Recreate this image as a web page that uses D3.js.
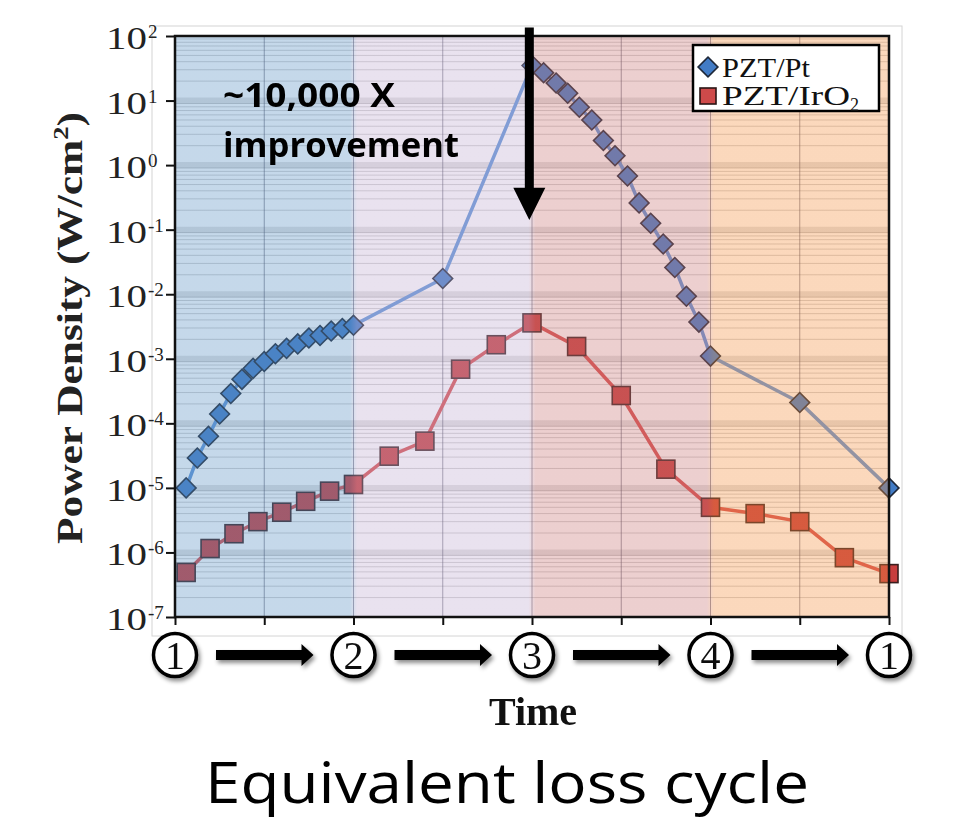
<!DOCTYPE html>
<html>
<head>
<meta charset="utf-8">
<script src="https://cdn.jsdelivr.net/npm/d3@7"></script>
<style>
  body { margin: 0; background: #fff; }
  svg { display: block; }
</style>
</head>
<body>
<div id="chart"></div>
<script>
// time axis: stages of the cycle
const stageTicks = [0, 1, 2, 3, 4, 5, 6, 7, 8];
const stagePos = [0, 2, 4, 6, 8];
const stageLabels = ["1", "2", "3", "4", "1"];
const regionStart = [0, 2, 4, 6];
const regionEnd = [2, 4, 6, 8];
const decades = [-7, -6, -5, -4, -3, -2, -1, 0, 1, 2];

// PZT/Pt
const ptTime = [0.125, 0.25, 0.375, 0.5, 0.625, 0.75, 0.875, 1.0, 1.125, 1.25, 1.375, 1.5, 1.625, 1.75, 1.875, 2.0,
  3.0,
  4.0, 4.13, 4.27, 4.4, 4.53, 4.67, 4.8, 4.93, 5.07, 5.2, 5.33, 5.47, 5.6, 5.73, 5.87, 6.0,
  7.0, 8.0];
const ptValue = [1.0e-5, 2.9e-5, 6.3e-5, 1.4e-4, 2.9e-4, 4.8e-4, 7.1e-4, 9.1e-4, 1.2e-3, 1.45e-3, 1.7e-3, 2.1e-3, 2.3e-3, 2.7e-3, 2.95e-3, 3.3e-3,
  1.75e-2,
  35, 27, 18.7, 13, 7.9, 5.0, 2.4, 1.4, 0.68, 0.26, 0.126, 0.06, 0.026, 0.0093, 0.0037, 0.0011,
  2.1e-4, 1.0e-5];

// PZT/IrO2
const irTime = [0.125, 0.393, 0.661, 0.929, 1.196, 1.464, 1.732, 2.0,
  2.4, 2.8, 3.2, 3.6, 4.0,
  4.5, 5.0, 5.5, 6.0,
  6.5, 7.0, 7.5, 8.0];
const irValue = [4.9e-7, 1.15e-6, 1.95e-6, 3.0e-6, 4.2e-6, 6.2e-6, 8.9e-6, 1.13e-5,
  3.1e-5, 5.3e-5, 6.9e-4, 1.65e-3, 3.6e-3,
  1.55e-3, 2.7e-4, 1.95e-5, 5.0e-6,
  4.0e-6, 3.0e-6, 8.3e-7, 4.7e-7];

// annotation arrow (time, top value, head value, tip value)
const arrowTime = 3.97;
const arrowValues = [10 ** 2.13, 10 ** -0.35, 10 ** -0.85];

const regionColors = ["rgb(89,144,195)", "rgb(192,172,209)", "rgb(201,118,118)", "rgb(244,144,64)"];

const width = 958, height = 821;
const svg = d3.select("#chart").append("svg")
  .attr("width", width)
  .attr("height", height);

const x = d3.scaleLinear().domain([0, 8]).range([175, 889]);
const y = d3.scaleLog().domain([1e-7, 1e2]).range([617, 36]);

const defs = svg.append("defs");

const grad = defs.append("linearGradient")
  .attr("id", "regions")
  .attr("gradientUnits", "userSpaceOnUse")
  .attr("x1", x(0)).attr("x2", x(8)).attr("y1", 0).attr("y2", 0);
regionStart.forEach((s, i) => {
  const pad = i === 0 ? 0 : 0.04;
  const padE = i === 3 ? 0 : 0.04;
  grad.append("stop").attr("offset", (s + pad) / 8).attr("stop-color", regionColors[i]);
  grad.append("stop").attr("offset", (regionEnd[i] - padE) / 8).attr("stop-color", regionColors[i]);
});

const shadow = defs.append("filter").attr("id", "shadow")
  .attr("x", "-30%").attr("y", "-30%").attr("width", "160%").attr("height", "170%");
shadow.append("feDropShadow")
  .attr("dx", 2).attr("dy", 3).attr("stdDeviation", 2)
  .attr("flood-color", "#000").attr("flood-opacity", 0.45);

// outer frame of the figure
svg.append("rect")
  .attr("x", 152).attr("y", 26)
  .attr("width", 750).attr("height", 610)
  .attr("fill", "#fff")
  .attr("stroke", "#d4d4d4");

const plot = svg.append("g");

// horizontal grid
const minor = [];
decades.slice(0, -1).forEach(d => {
  [2, 3, 4, 5, 6, 7, 8, 9].forEach(k => minor.push(k * 10 ** d));
});
plot.selectAll(".major")
  .data(decades.slice(1, -1))
  .enter().append("line")
  .attr("x1", x(0)).attr("x2", x(8))
  .attr("y1", d => y(10 ** d)).attr("y2", d => y(10 ** d))
  .attr("stroke", "rgba(110,110,110,0.2)")
  .attr("stroke-width", 6);
plot.selectAll(".minor")
  .data(minor)
  .enter().append("line")
  .attr("x1", x(0)).attr("x2", x(8))
  .attr("y1", d => y(d)).attr("y2", d => y(d))
  .attr("stroke", "rgba(90,90,90,0.28)")
  .attr("stroke-width", 1);

// vertical grid
plot.selectAll(".vgrid")
  .data(stageTicks.slice(1, -1))
  .enter().append("line")
  .attr("x1", d => x(d)).attr("x2", d => x(d))
  .attr("y1", y(1e2)).attr("y2", y(1e-7))
  .attr("stroke", "rgba(70,70,90,0.55)")
  .attr("stroke-width", 1);

const line = d3.line().x(d => x(d[0])).y(d => y(d[1]));
const ptData = ptTime.map((t, i) => [t, ptValue[i]]);
const irData = irTime.map((t, i) => [t, irValue[i]]);

plot.append("path")
  .datum(ptData)
  .attr("d", line)
  .attr("fill", "none")
  .attr("stroke", "rgb(95,148,215)")
  .attr("stroke-width", 3.5);

plot.append("path")
  .datum(irData)
  .attr("d", line)
  .attr("fill", "none")
  .attr("stroke", "rgb(214,78,78)")
  .attr("stroke-width", 3.5);

plot.selectAll(".ir")
  .data(irData)
  .enter().append("rect")
  .attr("x", d => x(d[0]) - 9)
  .attr("y", d => y(d[1]) - 9)
  .attr("width", 18).attr("height", 18)
  .attr("fill", "rgb(199,62,62)")
  .attr("stroke", "#3a1f1f")
  .attr("stroke-width", 1.6);

plot.selectAll(".pt")
  .data(ptData)
  .enter().append("rect")
  .attr("x", -7).attr("y", -7)
  .attr("width", 14).attr("height", 14)
  .attr("transform", d => `translate(${x(d[0])},${y(d[1])}) rotate(45)`)
  .attr("fill", "rgb(66,124,198)")
  .attr("stroke", "#1f2838")
  .attr("stroke-width", 1.6);

// translucent colour regions over the data
svg.append("rect")
  .attr("x", x(0)).attr("y", y(1e2))
  .attr("width", x(8) - x(0)).attr("height", y(1e-7) - y(1e2))
  .attr("fill", "url(#regions)")
  .attr("opacity", 0.35);

// axes
const yAxis = svg.append("g")
  .attr("transform", `translate(${x(0)},0)`)
  .call(d3.axisLeft(y).tickValues(decades.map(d => 10 ** d)).tickFormat("").tickSize(9));
const xAxis = svg.append("g")
  .attr("transform", `translate(0,${y(1e-7)})`)
  .call(d3.axisBottom(x).tickValues(stageTicks).tickFormat("").tickSize(8));
[yAxis, xAxis].forEach(a => {
  a.select(".domain").remove();
  a.selectAll(".tick line").attr("stroke", "#111").attr("stroke-width", 2);
});

svg.append("rect")
  .attr("x", x(0)).attr("y", y(1e2))
  .attr("width", x(8) - x(0)).attr("height", y(1e-7) - y(1e2))
  .attr("fill", "none")
  .attr("stroke", "#111")
  .attr("stroke-width", 2.5);

// y tick labels 10^n
const labels = svg.append("g")
  .attr("font-family", "'Liberation Serif', serif")
  .attr("fill", "#222");
decades.forEach(d => {
  const ty = y(10 ** d);
  labels.append("text")
    .attr("x", 147).attr("y", ty + 13)
    .attr("text-anchor", "end")
    .attr("font-size", 31)
    .attr("textLength", 41)
    .attr("lengthAdjust", "spacingAndGlyphs")
    .text("10");
  labels.append("text")
    .attr("x", 148).attr("y", ty + 2)
    .attr("font-size", 19)
    .text(d < 0 ? "-" + Math.abs(d) : String(d));
});

svg.append("text")
  .attr("transform", "translate(82,328) rotate(-90)")
  .attr("text-anchor", "middle")
  .attr("font-family", "'Liberation Serif', serif")
  .attr("font-weight", "bold")
  .attr("font-size", 36)
  .attr("fill", "#222")
  .attr("textLength", 432)
  .attr("lengthAdjust", "spacingAndGlyphs")
  .html('Power Density (W/cm<tspan font-size="22" dy="-14">2</tspan><tspan dy="14">)</tspan>');

// cycle stages under the axis
const stages = svg.append("g").attr("filter", "url(#shadow)");
const cy = 655;
stagePos.slice(0, -1).forEach((s, i) => {
  const x1 = x(s) + 41, x2 = x(stagePos[i + 1]) - 40;
  stages.append("path")
    .attr("d", `M${x1},${cy - 5}L${x2 - 12},${cy - 5}L${x2 - 12},${cy - 11}L${x2},${cy}L${x2 - 12},${cy + 11}L${x2 - 12},${cy + 5}L${x1},${cy + 5}Z`)
    .attr("fill", "#000");
});
const circ = stages.selectAll(".stage")
  .data(stagePos)
  .enter().append("g")
  .attr("transform", d => `translate(${x(d)},${cy})`);
circ.append("circle")
  .attr("r", 21.5)
  .attr("fill", "#fff")
  .attr("stroke", "#000")
  .attr("stroke-width", 3.5);
circ.append("text")
  .attr("y", 14)
  .attr("text-anchor", "middle")
  .attr("font-family", "'Liberation Serif', serif")
  .attr("font-size", 40)
  .attr("fill", "#111")
  .text((d, i) => stageLabels[i]);

svg.append("text")
  .attr("x", 533).attr("y", 725)
  .attr("text-anchor", "middle")
  .attr("font-family", "'Liberation Serif', serif")
  .attr("font-weight", "bold")
  .attr("font-size", 40)
  .attr("fill", "#111")
  .text("Time");

// big arrow annotation
const ax = x(arrowTime);
const [ay0, ay1, ay2] = arrowValues.map(v => y(v));
svg.append("path")
  .attr("d", `M${ax - 4.5},${ay0}L${ax + 4.5},${ay0}L${ax + 4.5},${ay1}L${ax + 16},${ay1}L${ax},${ay2}L${ax - 16},${ay1}L${ax - 4.5},${ay1}Z`)
  .attr("fill", "#000");

const note = svg.append("g")
  .attr("font-family", "'Open Sans', sans-serif")
  .attr("font-weight", "bold")
  .attr("font-size", 34)
  .attr("fill", "#000");
note.append("text").attr("x", 223).attr("y", 107)
  .attr("textLength", 172).attr("lengthAdjust", "spacingAndGlyphs")
  .text("~10,000 X");
note.append("text").attr("x", 223).attr("y", 157)
  .attr("textLength", 236).attr("lengthAdjust", "spacingAndGlyphs")
  .text("improvement");

// legend
const legend = svg.append("g").attr("transform", "translate(693,45)");
legend.append("rect")
  .attr("width", 186).attr("height", 66)
  .attr("fill", "#fff")
  .attr("stroke", "#000")
  .attr("stroke-width", 2.5);
legend.append("rect")
  .attr("x", -7).attr("y", -7).attr("width", 14).attr("height", 14)
  .attr("transform", "translate(15,22) rotate(45)")
  .attr("fill", "rgb(66,124,198)")
  .attr("stroke", "#1f2838")
  .attr("stroke-width", 1.6);
legend.append("rect")
  .attr("x", 7).attr("y", 43).attr("width", 16).attr("height", 16)
  .attr("fill", "rgb(206,74,74)")
  .attr("stroke", "#2a1515")
  .attr("stroke-width", 1.6);
const lt = legend.append("g")
  .attr("font-family", "'Liberation Serif', serif")
  .attr("font-size", 28)
  .attr("fill", "#111");
lt.append("text").attr("x", 29).attr("y", 32)
  .attr("textLength", 88).attr("lengthAdjust", "spacingAndGlyphs")
  .text("PZT/Pt");
lt.append("text").attr("x", 29).attr("y", 60)
  .html('<tspan textLength="128" lengthAdjust="spacingAndGlyphs">PZT/IrO</tspan><tspan font-size="18" dy="6">2</tspan>');

// caption
svg.append("text")
  .attr("x", 507).attr("y", 803)
  .attr("text-anchor", "middle")
  .attr("font-family", "'Open Sans', sans-serif")
  .attr("font-size", 57)
  .attr("fill", "#000")
  .attr("textLength", 604)
  .attr("lengthAdjust", "spacingAndGlyphs")
  .text("Equivalent loss cycle");
</script>
</body>
</html>
